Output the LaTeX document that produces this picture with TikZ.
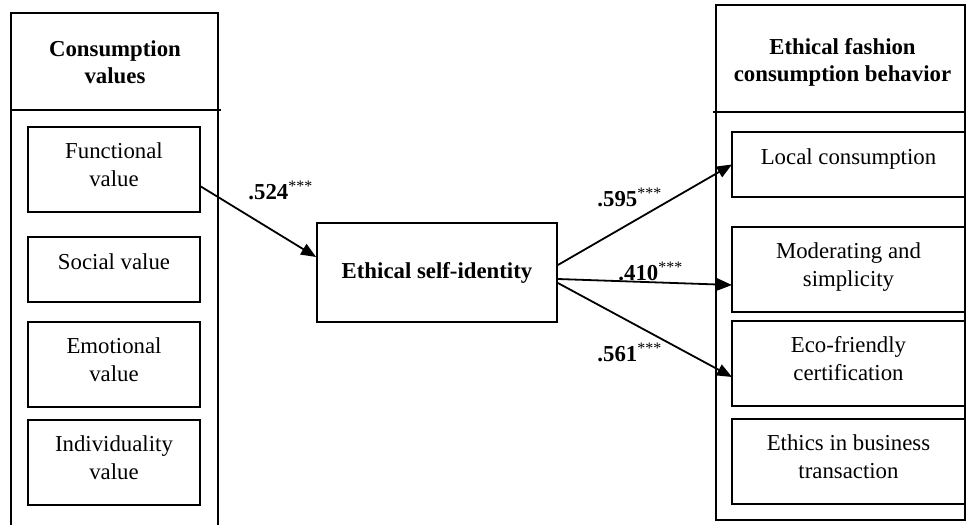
\documentclass[tikz,border=0pt]{standalone}
\usepackage{fontspec}
\setmainfont{Liberation Serif}
\usetikzlibrary{arrows.meta, positioning}

\newcommand{\sigstars}{\textsuperscript{\mdseries ***}}

\begin{document}
\begin{tikzpicture}[
  x=0.5pt, y=-0.5pt,
  >={Triangle[length=7.5pt, width=6pt]},
  every node/.style={font=\fontsize{11.4}{13.6}\selectfont},
  frame/.style={line width=1pt},
  header/.style={align=center, font=\fontsize{11.4}{13.6}\selectfont\bfseries},
  item/.style={draw, line width=0.9pt, minimum height=42.5pt, align=center,
               inner sep=0pt, outer sep=0pt, text depth=5pt},
  short/.style={item, minimum height=32.5pt, text depth=8pt},
  leftitem/.style={minimum width=86pt},
  rightitem/.style={minimum width=116.5pt},
  core/.style={draw, line width=0.9pt, minimum width=120pt, minimum height=49.5pt,
               font=\fontsize{11.4}{13.6}\selectfont\bfseries},
  coef/.style={anchor=base west, inner sep=0pt, font=\fontsize{11.4}{13.6}\selectfont\bfseries},
  path/.style={->, line width=0.9pt}
]
  \useasboundingbox (0,0) rectangle (966,525);

  % Consumption values frame
  \draw[frame] (11,525) -- (11,13) -- (218,13) -- (218,525);
  \draw[frame] (11,110) -- (221,110);
  \node[header] (valueshead) at (115,62) {Consumption\\values};

  \node[item, leftitem] (functional) at (114,169.5) {Functional\\value};
  \node[short, leftitem, below=12.5pt of functional] (social) {Social value};
  \node[item, leftitem, below=10pt of social] (emotional) {Emotional\\value};
  \node[item, leftitem, below=6.5pt of emotional] (individuality) {Individuality\\value};

  % Ethical fashion consumption behavior frame
  \draw[frame] (716,5) rectangle (965,520);
  \draw[frame] (713,112) -- (965,112);
  \node[header] (behaviorhead) at (842.5,62) {Ethical fashion\\consumption behavior};

  \node[short, rightitem] (local) at (848.5,164.5) {Local consumption};
  \node[item, rightitem, below=15pt of local] (moderating) {Moderating and\\simplicity};
  \node[item, rightitem, below=4.5pt of moderating] (ecofriendly) {Eco-friendly\\certification};
  \node[item, rightitem, below=6.5pt of ecofriendly] (ethics) {Ethics in business\\transaction};

  % Mediator
  \node[core] (identity) at (437,272.5) {Ethical self-identity};

  \draw[path] ([yshift=-8.25pt]functional.east) -- ([yshift=7.75pt]identity.west);
  \draw[path] ([yshift=3.75pt]identity.east) -- (local.west);
  \draw[path] ([yshift=-3.25pt]identity.east) -- ([yshift=-7.75pt]moderating.west);
  \draw[path] ([yshift=-5.25pt]identity.east) -- ([yshift=-6.75pt]ecofriendly.west);

  % Path coefficients
  \node[coef] (c524) at (248,199) {.524\sigstars};
  \node[coef] (c595) at (597,206) {.595\sigstars};
  \node[coef] (c410) at (618,280) {.410\sigstars};
  \node[coef] (c561) at (597,361) {.561\sigstars};
\end{tikzpicture}
\end{document}
